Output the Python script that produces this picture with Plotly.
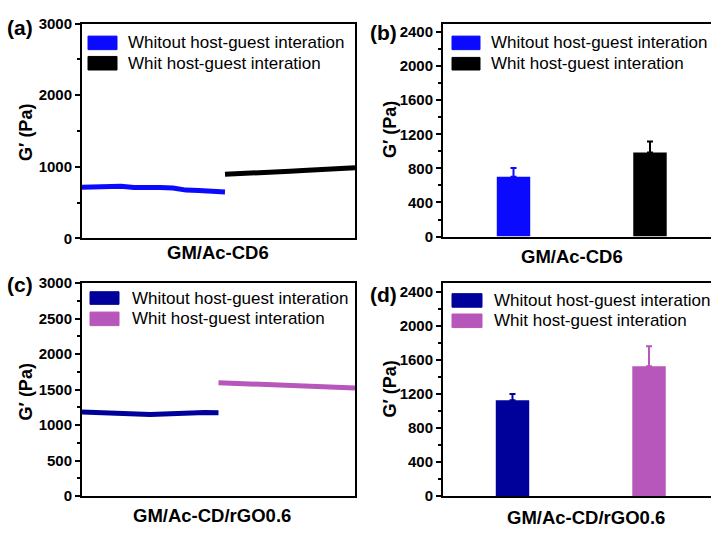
import plotly.graph_objects as go

W, H = 711, 536

# ---------------- data ----------------
# (a) GM/Ac-CD6 storage modulus curves
a_x_without = [0, 1, 2, 3, 4, 5, 6, 7, 8, 9, 10, 11]
a_y_without = [716, 725, 733, 730, 712, 718, 712, 705, 675, 668, 658, 649]
a_x_with = [11, 12, 13, 14, 15, 16, 17, 18, 19, 20, 21]
a_y_with = [896, 902, 910, 918, 928, 940, 950, 958, 966, 976, 986]

# (b) GM/Ac-CD6 bars
b_vals = [701, 985]
b_err = [103, 130]

# (c) GM/Ac-CD/rGO0.6 curves
c_x_without = [0, 1, 2, 3, 4, 5, 6, 7, 8, 9, 10]
c_y_without = [1185, 1175, 1165, 1158, 1152, 1150, 1155, 1165, 1175, 1176, 1173]
c_x_with = [10, 11, 12, 13, 14, 15, 16, 17, 18, 19, 20]
c_y_with = [1595, 1588, 1580, 1570, 1560, 1550, 1543, 1537, 1532, 1528, 1523]

# (d) GM/Ac-CD/rGO0.6 bars
d_vals = [1125, 1523]
d_err = [72, 234]

bar_pos = [0, 1]
legend_labels = ["Whitout host-guest interation", "Whit host-guest interation"]
panel_labels = ["(a)", "(b)", "(c)", "(d)"]
x_titles = ["GM/Ac-CD6", "GM/Ac-CD6", "GM/Ac-CD/rGO0.6", "GM/Ac-CD/rGO0.6"]
y_title = "G\u2032 (Pa)"

BLUE = "#0a0aff"
BLACK = "#000000"
NAVY = "#00009a"
PINK = "#b756bb"

FONT = "Arial, Liberation Sans, sans-serif"

def px_x(p):
    return p / W

def px_y(p):
    return 1 - p / H

fig = go.Figure()

# ---- (a) lines
fig.add_trace(go.Scatter(x=a_x_without, y=a_y_without, mode="lines",
                         line=dict(color=BLUE, width=5), xaxis="x", yaxis="y", showlegend=False))
fig.add_trace(go.Scatter(x=a_x_with, y=a_y_with, mode="lines",
                         line=dict(color=BLACK, width=5), xaxis="x", yaxis="y", showlegend=False))
# ---- (b) bars
for i, col in enumerate([BLUE, BLACK]):
    fig.add_trace(go.Bar(x=[bar_pos[i]], y=[b_vals[i]], width=0.245, marker=dict(color=col, line=dict(width=0)),
                         error_y=dict(type="data", symmetric=False, array=[b_err[i]], arrayminus=[0],
                                      color=col, thickness=2, width=3),
                         xaxis="x2", yaxis="y2", showlegend=False))
# ---- (c) lines
fig.add_trace(go.Scatter(x=c_x_without, y=c_y_without, mode="lines",
                         line=dict(color=NAVY, width=5), xaxis="x3", yaxis="y3", showlegend=False))
fig.add_trace(go.Scatter(x=c_x_with, y=c_y_with, mode="lines",
                         line=dict(color=PINK, width=5), xaxis="x3", yaxis="y3", showlegend=False))
# ---- (d) bars
for i, col in enumerate([NAVY, PINK]):
    fig.add_trace(go.Bar(x=[bar_pos[i]], y=[d_vals[i]], width=0.245, marker=dict(color=col, line=dict(width=0)),
                         error_y=dict(type="data", symmetric=False, array=[d_err[i]], arrayminus=[0],
                                      color=col, thickness=2, width=3),
                         xaxis="x4", yaxis="y4", showlegend=False))

tickfont = dict(family=FONT, size=15, color="black", weight="bold")

def xax(domain, rng, anchor):
    return dict(domain=domain, range=rng, anchor=anchor, showline=True, linewidth=2, linecolor="black",
                mirror=True, showticklabels=False, ticks="", showgrid=False, zeroline=False, fixedrange=True)

def yax(domain, rng, anchor, dtick, minor_dtick, mirror):
    return dict(domain=domain, range=rng, anchor=anchor, showline=True, linewidth=2, linecolor="black",
                mirror=mirror, ticks="outside", ticklen=5, tickwidth=1.5, tickcolor="black",
                dtick=dtick, tick0=0, tickfont=tickfont, showgrid=False, zeroline=False,
                minor=dict(ticks="outside", ticklen=3, tickwidth=1.5, tickcolor="black", dtick=minor_dtick),
                fixedrange=True)

xl = [px_x(82), px_x(355)]
xr = [px_x(443), 1.0]
ytop_a = [px_y(237), px_y(15)]
ytop_b = [px_y(235), px_y(15)]
ybot = [px_y(503), px_y(283)]

fig.update_layout(
    width=W, height=H, margin=dict(l=0, r=0, t=0, b=0),
    paper_bgcolor="white", plot_bgcolor="white", barmode="overlay",
    xaxis=xax(xl, [0, 21], "y"),
    yaxis=yax(ytop_a, [0, 3000], "x", 1000, 500, True),
    xaxis2=xax(xr, [-0.5165, 1.447], "y2"),
    yaxis2=yax(ytop_b, [0, 2500], "x2", 400, 200, False),
    xaxis3=xax(xl, [0, 20], "y3"),
    yaxis3=yax(ybot, [0, 3000], "x3", 500, 250, True),
    xaxis4=xax(xr, [-0.509, 1.454], "y4"),
    yaxis4=yax(ybot, [0, 2500], "x4", 400, 200, False),
)

shapes = []
annotations = []

# legends: (swatch x0, x1, row1 y0, y1, row2 y0, y1, text x, colors)
legend_specs = [
    (88, 117, 28, 42, 49, 63, 126, [BLUE, BLACK]),
    (452, 480, 28, 42, 50, 63, 489, [BLUE, BLACK]),
    (90, 119, 292, 305, 313, 327, 130, [NAVY, PINK]),
    (452, 482, 294, 308, 315, 329, 492, [NAVY, PINK]),
]
for (sx0, sx1, r1a, r1b, r2a, r2b, tx, cols) in legend_specs:
    for (ya, yb), col, lab in zip([(r1a, r1b), (r2a, r2b)], cols, legend_labels):
        shapes.append(dict(type="rect", xref="paper", yref="paper",
                           x0=px_x(sx0), x1=px_x(sx1), y0=px_y(yb), y1=px_y(ya),
                           fillcolor=col, line=dict(color=col, width=1), layer="above"))
        annotations.append(dict(xref="paper", yref="paper", x=px_x(tx), y=px_y((ya + yb) / 2),
                                xanchor="left", yanchor="middle", showarrow=False, text=lab,
                                font=dict(family=FONT, size=17, color="black")))

# panel labels
for lab, (x, y) in zip(panel_labels, [(20, 19), (384, 24), (20, 285), (384, 295)]):
    annotations.append(dict(xref="paper", yref="paper", x=px_x(x), y=px_y(y), xanchor="center",
                            yanchor="middle", showarrow=False, text=lab,
                            font=dict(family=FONT, size=21, color="black", weight="bold")))

# y titles
for (x, y) in [(26, 128), (390, 125), (26, 396), (390, 393)]:
    annotations.append(dict(xref="paper", yref="paper", x=px_x(x), y=px_y(y), xanchor="center",
                            yanchor="middle", showarrow=False, text=y_title, textangle=-90,
                            font=dict(family=FONT, size=18, color="black", weight="bold")))

# x titles
for lab, (x, y) in zip(x_titles, [(218, 251), (572, 256), (212, 523), (586, 525)]):
    annotations.append(dict(xref="paper", yref="paper", x=px_x(x), y=px_y(y), xanchor="center",
                            yanchor="middle", showarrow=False, text=lab,
                            font=dict(family=FONT, size=18.5, color="black", weight="bold")))

fig.update_layout(shapes=shapes, annotations=annotations)

fig.write_html("out.html")
